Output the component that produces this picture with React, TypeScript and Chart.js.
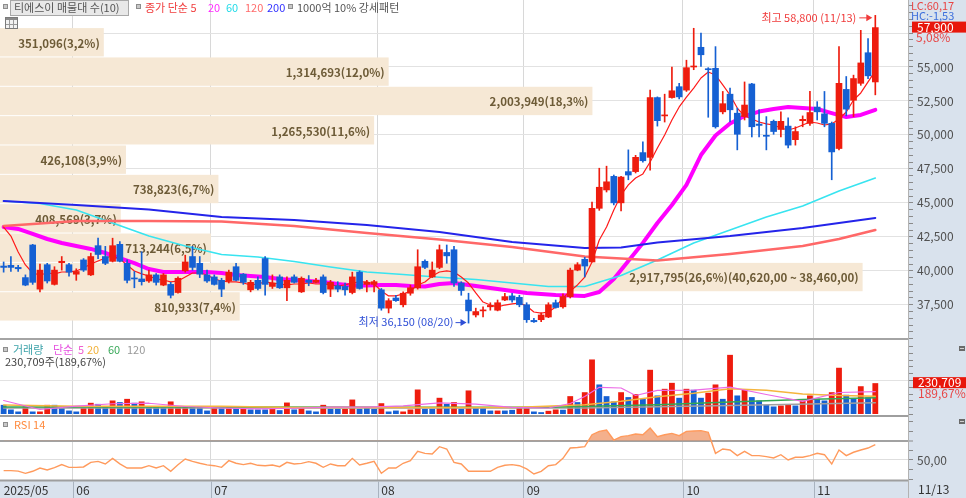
import React, { useEffect, useRef } from 'react';
import { Chart, registerables } from 'chart.js';

Chart.register(...registerables);

// ---------------- data ----------------
const yearLabel = '2025';
const monthNames = ['05', '06', '07', '08', '09', '10', '11'];
const monthDays = [
  [19, 20, 21, 22, 23, 26, 27, 28, 29, 30],
  [2, 4, 5, 9, 10, 11, 12, 13, 16, 17, 18, 19, 20, 23, 24, 25, 26, 27, 30],
  [1, 2, 3, 4, 7, 8, 9, 10, 11, 14, 15, 16, 17, 18, 21, 22, 23, 24, 25, 28, 29, 30, 31],
  [1, 4, 5, 6, 7, 8, 11, 12, 13, 14, 18, 19, 20, 21, 22, 25, 26, 27, 28, 29],
  [1, 2, 3, 4, 5, 8, 9, 10, 11, 12, 15, 16, 17, 18, 19, 22, 23, 24, 25, 26, 29, 30],
  [1, 2, 10, 13, 14, 15, 16, 17, 20, 21, 22, 23, 24, 27, 28, 29, 30, 31],
  [3, 4, 5, 6, 7, 10, 11, 12, 13],
];

const opens = [40350,40400,40250,39500,41900,38650,40450,39000,40600,40450,
39750,40800,39700,41850,41050,40700,41950,40550,39450,39400,
39250,39700,38950,39000,38400,40000,41050,40550,39700,39550,
39300,39250,40300,39750,38600,39300,40900,38850,39550,38750,
39550,38450,39300,39150,39550,38650,38900,38850,38400,39900,
39000,39000,38600,37250,38000,37500,38350,38750,40700,39550,
40250,41350,41550,39100,37850,36750,37050,37350,37100,37850,
38150,38050,37500,36350,36400,36600,37650,37350,38100,40050,
40850,40650,44600,45950,46950,45000,47300,47300,48700,48350,
52750,51400,52750,53550,53300,55000,56450,54850,54900,51700,
53000,51600,51350,53750,50800,49950,51000,50400,50650,49650,
51050,50850,52050,51550,50850,49000,53350,52550,53800,56050,
53900];
const highs = [40650,41050,40400,39700,41950,40500,40550,40300,41050,40550,
40150,40900,41300,42400,41800,42400,42150,40800,39950,41400,
40050,39800,39800,39150,39550,41150,41800,41050,40050,39700,
39450,40050,40550,39800,39300,39550,41050,39700,39700,39550,
39700,39550,39650,39450,39700,39300,39200,39100,39900,40000,
39300,39300,38700,37950,38200,38450,38950,41550,40800,40650,
41900,41900,41800,39200,38350,37250,37350,37650,37850,38350,
38350,38200,37650,36500,36900,37650,37850,38300,40200,40600,
41000,45050,47550,47700,47050,46950,48900,48500,49500,53300,
52800,53000,55000,53800,55500,57850,57500,54950,56500,53200,
53450,51980,53900,53800,51850,51350,51100,51700,51250,50600,
51400,53200,52450,53200,50950,56500,54300,54400,57700,57100,
58800];
const lows = [39900,39950,39950,38900,39000,38450,39100,38950,40050,39600,
39300,39950,39650,40900,40450,40650,40650,39100,38750,38950,
39150,38950,38900,38000,38350,39900,40050,39500,39150,38950,
38100,39100,39250,39000,38450,38600,38200,38700,38700,37800,
39100,38400,38900,39100,38300,38100,38450,38200,38300,38650,
38450,38450,37100,36900,37750,37350,38200,38650,40150,39500,
40150,40550,38850,38200,36150,36600,36600,37100,37050,37800,
37700,37350,36200,36200,36250,36550,37250,37250,38000,40000,
39550,40650,44450,45800,44850,44400,46700,47200,48000,47400,
50650,50950,52700,52650,53200,54800,55050,51300,50500,51550,
50950,48900,51100,49850,49850,48900,50050,49850,49050,49250,
50600,50700,51100,50600,46700,48900,51400,51350,53650,54150,
52950];
const closes = [40250,40250,40150,38950,39150,40050,39250,40050,40700,39900,
39950,40050,41050,41200,40550,41850,40700,39300,39400,39200,
39700,39150,39700,38200,39450,40650,40250,39750,39250,39000,
38650,39900,39300,39150,39150,38700,39000,39100,38750,39300,
39150,39450,39150,39300,38400,39150,38650,38600,39550,38700,
39150,39200,37250,37800,37800,38350,38750,40300,40250,40050,
41550,41100,39100,38550,37050,37000,37100,37450,37650,38100,
37850,37500,36400,36250,36750,37500,37300,38100,40050,40450,
40350,44600,46150,46550,45000,46900,47050,48350,48100,52750,
51050,51450,53250,52800,54950,55050,55900,54800,50600,52300,
51850,50050,52200,50600,50700,49900,50250,51000,49250,50250,
51150,51650,51700,50850,48750,53800,51900,54150,55300,54350,
57900];

const ma5 = [43220,42560,41380,40430,39840,39690,39840,39770,39910,39910,
39990,40210,40500,40720,40940,41090,40870,40430,39990,39770,
39620,39400,39320,39180,39250,39540,39840,39840,39690,39400,
39250,39180,39180,39100,38960,39030,39180,39100,39030,38960,
39030,39030,39100,39030,39030,38960,38880,38960,39100,39180,
39180,39030,38510,38150,38150,38290,38510,38960,39180,39620,
39910,39990,39910,39540,39100,38370,37700,37480,37340,37480,
37560,37630,37410,36970,36890,36970,37340,38000,38510,38960,
39540,40650,42270,43220,44480,45580,46320,46830,47130,48010,
49040,50000,51100,52060,52790,53450,54190,54630,54410,53680,
52940,51980,51390,51170,50950,50810,50730,50510,50360,50510,
50730,50950,50880,50730,50810,51170,51690,52570,53090,53900,
54710];
const ma20Pts = [[0,43220],[2,43080],[4,42710],[6,42340],[8,42050],[10,41830],[12,41610],[14,41310],[16,40940],[18,40570],
[20,40130],[22,39910],[24,39910],[26,39910],[28,39910],[30,39840],[32,39690],[34,39620],[36,39540],[38,39400],
[40,39320],[42,39250],[44,39180],[46,39030],[48,38920],[50,38920],[52,38960],[54,38960],[56,38880],[58,38840],
[60,39030],[62,39100],[64,38960],[66,38810],[68,38660],[70,38510],[72,38370],[74,38290],[76,38220],[78,38180],
[80,38150],[82,38440],[84,39400],[86,40720],[88,42050],[90,43520],[92,44840],[94,46320],[96,48520],[98,49960],
[100,50840],[102,51390],[104,51720],[106,51910],[108,52060],[110,51980],[112,51910],[114,51610],[116,51320],[118,51470],[120,51840]];
const ma60Pts = [[0,45140],[5,44950],[10,44480],[15,43520],[20,42560],[25,41830],[30,41200],[35,41020],[40,40690],[45,40280],
[50,39910],[55,39730],[60,39520],[65,39360],[70,39100],[75,38840],[80,38840],[85,39650],[90,40800],[95,42050],
[100,43000],[105,43960],[110,44770],[115,45870],[120,46830]];
const ma120Pts = [[0,43300],[5,43480],[10,43670],[20,43670],[30,43630],[40,43300],[50,42780],[60,42300],[70,41750],
[80,41050],[90,40760],[100,41240],[110,41830],[115,42340],[120,43000]];
const ma200Pts = [[0,45140],[10,44840],[20,44510],[30,43960],[40,43740],[50,43370],[60,42860],[70,42120],[80,41680],
[85,41720],[90,42090],[100,42560],[110,43150],[120,43890]];

const volumes = [71000,37000,22000,59000,22000,22000,71000,71000,47000,29000,
22000,49000,86000,78000,61000,103000,91000,115000,86000,96000,
61000,61000,52000,96000,61000,61000,61000,61000,29000,59000,
49000,59000,49000,49000,37000,37000,37000,42000,32000,88000,
37000,49000,29000,22000,71000,42000,42000,42000,110000,42000,
49000,42000,83000,22000,29000,22000,37000,184000,42000,42000,
123000,78000,91000,42000,177000,47000,47000,29000,29000,29000,
34000,47000,47000,22000,17000,27000,37000,35000,135000,91000,
164000,405000,221000,135000,96000,164000,128000,150000,115000,329000,
140000,189000,233000,123000,189000,182000,123000,160000,221000,115000,
439000,140000,182000,128000,103000,71000,59000,66000,74000,66000,
103000,140000,115000,103000,164000,344000,145000,120000,208000,127000,
230709];
const volUp = [0,0,0,1,0,1,1,0,0,0,
0,1,1,0,0,1,0,1,0,1,
0,0,0,1,1,1,0,0,0,1,
0,1,0,1,0,0,0,1,0,1,
0,1,0,0,1,0,0,1,1,0,
0,0,1,0,0,1,1,1,0,0,
1,0,1,0,1,0,0,0,1,0,
0,1,1,0,0,1,1,0,1,0,
1,1,0,0,0,1,0,1,0,1,
0,1,1,0,1,0,0,1,1,0,
1,0,1,0,0,0,0,1,1,0,
1,1,0,0,1,1,0,0,1,0,
1];
const volMa5Pts = [[0,103000],[5,37000],[10,61000],[15,79000],[20,83000],[25,59000],[30,48000],[35,42000],[40,46000],
[45,55000],[50,55000],[55,63000],[60,86000],[65,77000],[70,53000],[75,48000],[78,81000],[80,132000],[82,200000],
[85,195000],[87,140000],[90,177000],[95,180000],[100,202000],[105,147000],[110,96000],[115,162000],[120,169000]];
const volMa20Pts = [[0,70000],[10,61000],[20,61000],[30,61000],[40,52000],[50,52000],[60,52000],[70,52000],[80,71000],
[85,97000],[90,130000],[95,157000],[100,190000],[105,178000],[110,150000],[115,140000],[120,135000]];
const volMa60Pts = [[0,55000],[30,55000],[60,54000],[75,54000],[90,71000],[100,92000],[110,110000],[120,123000]];
const volMa120Pts = [[0,48000],[80,48000],[100,66000],[120,86000]];

const rsi = [39.0,39.0,38.5,36.2,38.3,41.7,39.7,42.0,45.2,42.4,
42.4,42.8,47.6,48.6,45.9,51.7,46.0,41.7,41.7,41.7,
44.1,41.7,44.1,38.3,45.0,51.0,48.5,46.6,45.0,44.1,
42.4,49.3,46.6,45.2,46.6,44.5,44.1,44.8,43.1,47.6,
45.9,46.5,48.3,46.6,42.4,45.9,44.1,44.1,51.7,44.8,
46.6,48.6,36.2,41.7,41.7,46.6,49.3,59.0,56.9,56.2,
63.8,61.4,47.6,45.9,38.3,38.3,38.3,38.3,42.4,44.5,
45.2,44.1,40.7,35.5,38.3,44.1,45.2,51.7,62.4,63.0,
63.8,76.2,79.7,81.1,70.7,74.2,75.2,76.9,76.2,83.1,
74.2,76.2,77.6,75.2,79.7,80.0,80.4,78.6,56.9,61.4,
60.4,54.5,59.0,54.5,54.5,53.5,52.1,55.5,50.0,52.8,
52.8,54.5,56.9,55.5,45.9,60.4,54.5,58.0,60.4,62.4,
65.9];

const profileBounds = [36300, 38460, 40620, 42780, 44940, 47100, 49260, 51420, 53580, 55740, 57900];
const profileVolumes = [810933, 2917795, 713244, 408569, 738823, 426108, 1265530, 2003949, 1314693, 351096];
const profilePcts = [7.4, 26.6, 6.5, 3.7, 6.7, 3.9, 11.6, 18.3, 12.0, 3.2];

const lcValue = 60.17;
const hcValue = -1.53;
const changePct = 5.08;
const volRatioPct = 189.67;

// ---------------- helpers ----------------
const N_SLOTS = 125;
const FONT = '"Noto Sans CJK KR", "Noto Sans", sans-serif';
const RED = '#ee1c0e';
const BLUE = '#1560d3';
const PANEL_BG = '#d9e2ed';
const RIGHT_W = 58;

const labels: string[] = [];
const monthStartIdx: number[] = [];
monthDays.forEach((days, m) => {
  monthStartIdx.push(labels.length);
  days.forEach((d) => labels.push(`${monthNames[m]}/${String(d).padStart(2, '0')}`));
});
const N = labels.length;
for (let k = N; k < N_SLOTS; k++) labels.push(' '.repeat(k - N + 1));

const sparse = (pts: number[][]) => {
  const a: (number | null)[] = new Array(N).fill(null);
  pts.forEach(([i, v]) => { a[i] = v; });
  return a;
};
const fmt = (v: number) => Math.round(v).toLocaleString('en-US');
const fmtDec = (v: number, d: number) => {
  const neg = v < 0;
  const [a, b] = Math.abs(v).toFixed(d).split('.');
  return `${neg ? '-' : ''}${Number(a).toLocaleString('en-US')},${b}`;
};

function xTickText(i: number) {
  if (i === 0) return `${yearLabel}/${monthNames[0]}`;
  const m = monthStartIdx.indexOf(i);
  return m > 0 ? monthNames[m] : '';
}

function txt(ctx: any, s: string, x: number, y: number, color: string, size = 11, align = 'left', weight = '') {
  ctx.font = `${weight ? weight + ' ' : ''}${size}px ${FONT}`;
  ctx.fillStyle = color;
  ctx.textAlign = align;
  ctx.textBaseline = 'middle';
  ctx.fillText(s, x, y);
}
function icon(ctx: any, x: number, y: number) {
  ctx.fillStyle = '#8d8d8d';
  ctx.fillRect(x, y, 5, 5);
  ctx.fillStyle = '#c8c8c8';
  ctx.fillRect(x + 1, y + 1, 3, 3);
}
function smallIcon(ctx: any, x: number, y: number) {
  ctx.fillStyle = '#6a6a6a';
  ctx.fillRect(x, y, 6, 5);
  ctx.fillStyle = '#d0d0d0';
  ctx.fillRect(x + 1, y + 2, 4, 1);
}
function arrow(ctx: any, x1: number, x2: number, y: number, color: string) {
  ctx.strokeStyle = color;
  ctx.fillStyle = color;
  ctx.lineWidth = 1;
  ctx.beginPath();
  ctx.moveTo(x1, y + 0.5);
  ctx.lineTo(x2 - 4, y + 0.5);
  ctx.stroke();
  ctx.beginPath();
  ctx.moveTo(x2, y + 0.5);
  ctx.lineTo(x2 - 6, y - 3);
  ctx.lineTo(x2 - 6, y + 4);
  ctx.closePath();
  ctx.fill();
}
function hLine(ctx: any, x1: number, x2: number, y: number, color: string, w: number) {
  ctx.strokeStyle = color;
  ctx.lineWidth = w;
  ctx.beginPath();
  ctx.moveTo(x1, y);
  ctx.lineTo(x2, y);
  ctx.stroke();
}
function vLine(ctx: any, x: number, y1: number, y2: number, color: string, w = 1) {
  ctx.strokeStyle = color;
  ctx.lineWidth = w;
  ctx.beginPath();
  ctx.moveTo(x, y1);
  ctx.lineTo(x, y2);
  ctx.stroke();
}
function paintBackground(chart: any) {
  const { ctx, chartArea: a, width, height } = chart;
  ctx.save();
  ctx.fillStyle = '#ffffff';
  ctx.fillRect(0, 0, width, height);
  ctx.fillStyle = PANEL_BG;
  ctx.fillRect(a.right, 0, width - a.right, height);
  ctx.restore();
}

function xScaleOpts(showLabels: boolean) {
  return {
    type: 'category',
    offset: true,
    grid: {
      offset: true,
      drawTicks: false,
      lineWidth: 1,
      color: (c: any) => (c.index > 0 && monthStartIdx.includes(c.index) ? '#d8d8d8' : 'rgba(0,0,0,0)'),
    },
    border: { display: false },
    ticks: {
      display: showLabels,
      autoSkip: false,
      maxRotation: 0,
      minRotation: 0,
      align: 'start',
      padding: 3,
      color: '#333333',
      font: { family: FONT, size: 12 },
      callback: (_v: any, i: number) => xTickText(i),
    },
    afterFit: (s: any) => {
      s.height = showLabels ? 18 : 0;
      s.paddingLeft = 0;
      s.paddingRight = 0;
    },
  };
}

function yScaleOpts(min: number, max: number, step: number, label: (v: number) => string,
  gridColor: (v: number) => string, gridWidth: (v: number) => number = () => 1) {
  return {
    type: 'linear',
    position: 'right',
    bounds: 'ticks',
    beginAtZero: false,
    min,
    max,
    grid: {
      color: (c: any) => gridColor(c.tick ? c.tick.value : NaN),
      lineWidth: (c: any) => gridWidth(c.tick ? c.tick.value : NaN),
      drawTicks: true,
      tickLength: 5,
      tickColor: '#8a8a8a',
      tickWidth: 1,
    },
    border: { display: false },
    ticks: {
      autoSkip: false,
      includeBounds: false,
      padding: 4,
      color: '#505050',
      font: { family: FONT, size: 12 },
      callback: (v: any) => label(Number(v)),
    },
    afterBuildTicks: (s: any) => {
      const out: { value: number }[] = [];
      for (let k = Math.ceil(min / step); k * step <= max; k++) out.push({ value: Math.round(k * step * 1000) / 1000 });
      s.ticks = out;
    },
    afterFit: (s: any) => {
      s.width = RIGHT_W;
      s.paddingTop = 0;
      s.paddingBottom = 0;
    },
  };
}

const lineDs = (data: any[], color: string, width: number, order: number) => ({
  type: 'line',
  data,
  borderColor: color,
  backgroundColor: color,
  borderWidth: width,
  pointRadius: 0,
  spanGaps: true,
  tension: 0,
  fill: false,
  order,
  borderJoinStyle: 'round',
  borderCapStyle: 'round',
});

const baseOptions = {
  responsive: false,
  maintainAspectRatio: false,
  animation: false,
  events: [],
  layout: { padding: 0, autoPadding: false },
  plugins: { legend: { display: false }, tooltip: { enabled: false } },
};

// ---------------- price chart ----------------
function priceConfig(): any {
  const candleColors = closes.map((c, i) => (c >= opens[i] ? RED : BLUE));
  const bodies = closes.map((c, i) => [Math.min(c, opens[i]), Math.max(c, opens[i])]);
  const wicks = closes.map((_c, i) => [lows[i], highs[i]]);
  const plugin = {
    id: 'pricePanel',
    beforeDraw: paintBackground,
    beforeDatasetsDraw(chart: any) {
      const { ctx, chartArea: a, scales } = chart;
      const ys = scales.y;
      const maxV = Math.max(...profileVolumes);
      const maxIdx = profileVolumes.indexOf(maxV);
      const fullW = a.width * 0.95;
      ctx.save();
      ctx.beginPath();
      ctx.rect(a.left, a.top, a.width, a.height);
      ctx.clip();
      profileVolumes.forEach((v, k) => {
        const lo = profileBounds[k];
        const hi = profileBounds[k + 1];
        const yTop = ys.getPixelForValue(hi);
        const yBot = ys.getPixelForValue(lo);
        const w = (fullW * v) / maxV;
        ctx.fillStyle = '#f6e8d5';
        ctx.fillRect(a.left, yTop + 0.5, w, yBot - yTop - 1);
        let s = `${fmt(v)}(${fmtDec(profilePcts[k], 1)}%)`;
        if (k === maxIdx) s += `(${fmtDec(hi, 2)} ~ ${fmtDec(lo, 2)})`;
        txt(ctx, s, a.left + w - 4, (yTop + yBot) / 2 + 1, '#6d5b37', 11.5, 'right', 'bold');
      });
      ctx.restore();
    },
    afterDraw(chart: any) {
      const { ctx, chartArea: a, scales, height } = chart;
      const xs = scales.x;
      const ys = scales.y;
      ctx.save();
      hLine(ctx, 0, a.right, a.bottom - 1, '#a4a4a4', 2);
      vLine(ctx, a.right + 0.5, 0, height, '#b2b2b2');

      // legend row
      icon(ctx, 3, 4);
      ctx.fillStyle = '#e8e8e8';
      ctx.fillRect(10, 0, 118, 15);
      ctx.strokeStyle = '#a8a8a8';
      ctx.lineWidth = 1;
      ctx.strokeRect(10.5, 0.5, 118, 15);
      txt(ctx, '티에스이 매물대 수(10)', 14, 8, '#555555', 11);
      icon(ctx, 136, 4);
      txt(ctx, '종가 단순 5', 145, 8, '#f03c3c', 11);
      txt(ctx, '20', 208, 8, '#ff2cff', 11);
      txt(ctx, '60', 226, 8, '#22dbe8', 11);
      txt(ctx, '120', 245, 8, '#ff6b6b', 11);
      txt(ctx, '200', 267, 8, '#3333ff', 11);
      icon(ctx, 288, 4);
      txt(ctx, '1000억 10% 강세패턴', 297, 8, '#555555', 11);
      // table icon
      ctx.fillStyle = '#f2f2f2';
      ctx.fillRect(5, 17, 12, 11);
      ctx.fillStyle = '#8a8a8a';
      ctx.fillRect(5, 17, 12, 3);
      ctx.strokeStyle = '#7a7a7a';
      ctx.strokeRect(5.5, 17.5, 12, 11);
      vLine(ctx, 9.5, 20, 28, '#9a9a9a');
      vLine(ctx, 13.5, 20, 28, '#9a9a9a');
      hLine(ctx, 6, 17, 24.5, '#9a9a9a', 1);

      // high / low annotations
      const maxHigh = Math.max(...highs);
      const hi = highs.indexOf(maxHigh);
      const hx = xs.getPixelForValue(hi);
      const hy = ys.getPixelForValue(maxHigh) + 2;
      txt(ctx, `최고 ${fmt(maxHigh)} (${labels[hi]})`, hx - 19, hy, '#f03a3a', 11, 'right');
      arrow(ctx, hx - 16, hx - 3, hy, '#f03a3a');
      const minLow = Math.min(...lows);
      const li = lows.indexOf(minLow);
      const lx = xs.getPixelForValue(li);
      const ly = ys.getPixelForValue(minLow) - 1;
      txt(ctx, `최저 ${fmt(minLow)} (${labels[li]})`, lx - 15, ly, '#2f4fd6', 11, 'right');
      arrow(ctx, lx - 13, lx - 2, ly, '#2f4fd6');

      // right column labels
      const rx = a.right;
      txt(ctx, `LC:${fmtDec(lcValue, 2)}`, rx + 3, 6, '#e84646', 11);
      txt(ctx, `HC:${fmtDec(hcValue, 2)}`, rx + 3, 15.5, '#3d6fdc', 11);
      const last = closes[N - 1];
      const cy = ys.getPixelForValue(last);
      ctx.fillStyle = '#e8170b';
      ctx.fillRect(rx + 4, cy - 6, RIGHT_W - 4, 11);
      txt(ctx, fmt(last), rx + 9, cy - 0.5, '#ffffff', 12);
      txt(ctx, `${fmtDec(changePct, 2)}%`, rx + 8, cy + 10, '#e84646', 12);
      ctx.restore();
    },
  };
  return {
    type: 'bar',
    data: {
      labels,
      datasets: [
        { type: 'bar', data: bodies, backgroundColor: candleColors, barThickness: 6, grouped: false, minBarLength: 1, borderWidth: 0, order: 0 },
        { type: 'bar', data: wicks, backgroundColor: candleColors, barThickness: 1, grouped: false, borderWidth: 0, order: 1 },
        lineDs(ma5, '#ff1a1a', 1.2, 2),
        lineDs(sparse(ma200Pts), '#2424ea', 2, 3),
        lineDs(sparse(ma120Pts), '#ff6868', 2.6, 4),
        lineDs(sparse(ma60Pts), '#38e4f0', 1.6, 5),
        lineDs(sparse(ma20Pts), '#ff00ff', 4, 6),
      ],
    },
    options: {
      ...baseOptions,
      scales: {
        x: xScaleOpts(false),
        y: yScaleOpts(34907, 59931, 500,
          (v) => (v % 2500 === 0 && v !== 57500 && v !== 35000 ? fmt(v) : ''),
          (v) => (v % 2500 === 0 ? '#e2e2e2' : 'rgba(0,0,0,0)')),
      },
    },
    plugins: [plugin],
  };
}

// ---------------- volume chart ----------------
function volumeConfig(): any {
  const plugin = {
    id: 'volumePanel',
    beforeDraw: paintBackground,
    afterDraw(chart: any) {
      const { ctx, chartArea: a, scales, height } = chart;
      const ys = scales.y;
      ctx.save();
      vLine(ctx, a.right + 0.5, 0, height, '#b2b2b2');
      icon(ctx, 3, 7);
      txt(ctx, '거래량', 13, 10, '#3ea3aa', 11);
      txt(ctx, '단순', 53, 10, '#e64fe0', 11);
      txt(ctx, '5', 78, 10, '#ee5fcf', 11);
      txt(ctx, '20', 87, 10, '#f2b23a', 11);
      txt(ctx, '60', 108, 10, '#3aa95a', 11);
      txt(ctx, '120', 127, 10, '#999999', 11);
      const lastVol = volumes[N - 1];
      txt(ctx, `${fmt(lastVol)}주(${fmtDec(volRatioPct, 2)}%)`, 5, 22, '#444444', 11);
      const cy = ys.getPixelForValue(lastVol);
      ctx.fillStyle = '#e8170b';
      ctx.fillRect(a.right + 5, cy - 6, RIGHT_W - 5, 11);
      txt(ctx, fmt(lastVol), a.right + 10, cy - 0.5, '#ffffff', 12);
      txt(ctx, `${fmtDec(volRatioPct, 2)}%`, a.right + 10, cy + 10, '#e84646', 12);
      smallIcon(ctx, 959, 6);
      ctx.restore();
    },
  };
  return {
    type: 'bar',
    data: {
      labels,
      datasets: [
        { type: 'bar', data: volumes, backgroundColor: volUp.map((u) => (u ? RED : BLUE)), barPercentage: 0.8, categoryPercentage: 1, borderWidth: 0, order: 5 },
        lineDs(sparse(volMa120Pts), '#a0a0a0', 1.5, 4),
        lineDs(sparse(volMa60Pts), '#35a853', 1.5, 3),
        lineDs(sparse(volMa20Pts), '#f5b53d', 1.5, 2),
        lineDs(sparse(volMa5Pts), '#ec6be6', 1.2, 1),
      ],
    },
    options: {
      ...baseOptions,
      scales: {
        x: xScaleOpts(false),
        y: yScaleOpts(-3680, 548320, 50000, () => '', (v) => (v === 250000 ? '#e2e2e2' : 'rgba(0,0,0,0)')),
      },
    },
    plugins: [plugin],
  };
}

// ---------------- RSI chart ----------------
function rsiConfig(): any {
  const plugin = {
    id: 'rsiPanel',
    beforeDraw(chart: any) {
      paintBackground(chart);
      const { ctx, chartArea: a, width, height } = chart;
      ctx.save();
      ctx.fillStyle = PANEL_BG;
      ctx.fillRect(0, a.bottom, width, height - a.bottom);
      ctx.restore();
    },
    afterDraw(chart: any) {
      const { ctx, chartArea: a, scales, height } = chart;
      const xs = scales.x;
      ctx.save();
      hLine(ctx, 0, a.right, 1, '#9e9e9e', 2);
      hLine(ctx, 0, a.right, a.bottom + 0.5, '#9e9e9e', 2);
      vLine(ctx, a.right + 0.5, 0, height, '#b2b2b2');
      const slot = a.width / N_SLOTS;
      monthStartIdx.forEach((idx) => {
        if (idx === 0) return;
        const x = Math.round(xs.getPixelForValue(idx) - slot / 2) + 0.5;
        vLine(ctx, x, a.bottom + 1.5, height, '#a9b3bf');
      });
      icon(ctx, 3, 7);
      txt(ctx, 'RSI 14', 14, 9.5, '#ff8a3d', 11);
      smallIcon(ctx, 959, 4);
      txt(ctx, labels[N - 1], a.right + 10, a.bottom + 9.5, '#333333', 12);
      ctx.restore();
    },
  };
  return {
    type: 'line',
    data: {
      labels,
      datasets: [
        {
          data: rsi,
          borderColor: '#ff9a5c',
          borderWidth: 1.4,
          pointRadius: 0,
          tension: 0,
          fill: { target: { value: 70 }, above: 'rgba(240,146,96,0.72)', below: 'rgba(0,0,0,0)' },
        },
      ],
    },
    options: {
      ...baseOptions,
      scales: {
        x: xScaleOpts(true),
        y: yScaleOpts(29.27, 96.63, 10,
          (v) => (v === 50 ? fmtDec(50, 2) : ''),
          (v) => (v === 70 ? '#a2a2a2' : v === 50 ? '#dedede' : 'rgba(0,0,0,0)'),
          (v) => (v === 70 ? 2 : 1)),
      },
    },
    plugins: [plugin],
  };
}

export default function App() {
  const refA = useRef<HTMLCanvasElement>(null);
  const refB = useRef<HTMLCanvasElement>(null);
  const refC = useRef<HTMLCanvasElement>(null);
  useEffect(() => {
    const a = new Chart(refA.current as HTMLCanvasElement, priceConfig());
    const b = new Chart(refB.current as HTMLCanvasElement, volumeConfig());
    const c = new Chart(refC.current as HTMLCanvasElement, rsiConfig());
    return () => {
      a.destroy();
      b.destroy();
      c.destroy();
    };
  }, []);
  return (
    <div style={{ position: 'absolute', left: 0, top: 0, width: 966, height: 498, background: '#ffffff', overflow: 'hidden' }}>
      <canvas ref={refA} width={966} height={340} style={{ position: 'absolute', left: 0, top: 0, width: 966, height: 340 }} />
      <canvas ref={refB} width={966} height={75} style={{ position: 'absolute', left: 0, top: 340, width: 966, height: 75 }} />
      <canvas ref={refC} width={966} height={83} style={{ position: 'absolute', left: 0, top: 415, width: 966, height: 83 }} />
    </div>
  );
}
